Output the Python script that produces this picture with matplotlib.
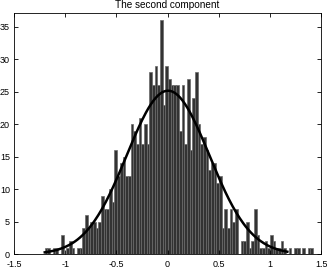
#Histogram of the second component with a normal fit on top (histfit style)

import numpy as np
import matplotlib
matplotlib.use('Agg')
import matplotlib.pyplot as plt

plt.rcParams['font.family'] = ['Liberation Sans', 'DejaVu Sans']
plt.rcParams['axes.unicode_minus'] = False

#bin range, 100 equal bins
binStart = -1.2
binStop = 1.42
counts = [1, 1, 0, 1, 1, 0, 3, 0, 1, 2,
          1, 0, 1, 1, 4, 6, 4, 5, 5, 4,
          5, 9, 7, 7, 10, 8, 16, 12, 14, 15,
          12, 12, 20, 19, 17, 21, 17, 20, 17, 28,
          26, 29, 26, 36, 23, 29, 27, 26, 26, 26,
          19, 26, 17, 27, 16, 24, 28, 20, 17, 18,
          16, 13, 14, 14, 11, 12, 4, 7, 4, 7,
          5, 7, 0, 2, 2, 5, 1, 2, 7, 3,
          1, 1, 2, 1, 3, 2, 1, 1, 2, 1,
          0, 1, 0, 1, 1, 0, 1, 0, 1, 1]
#range the fitted curve is drawn over
fitStart = -1.2
fitStop = 1.17

xTicks = [-1.5, -1, -0.5, 0, 0.5, 1, 1.5]
xTickLabels = ['-1.5', '-1', '-0.5', '0', '0.5', '1', '1.5']
yTicks = [0, 5, 10, 15, 20, 25, 30, 35]

edges = np.linspace(binStart, binStop, len(counts) + 1)
centers = 0.5 * (edges[:-1] + edges[1:])
binWidth = edges[1] - edges[0]
counts = np.array(counts, dtype=float)

#normal fit from the binned data, scaled to counts like histfit does
nTotal = counts.sum()
mu = (counts * centers).sum() / nTotal
sigma = np.sqrt((counts * (centers - mu) ** 2).sum() / (nTotal - 1))
xx = np.linspace(fitStart, fitStop, 200)
yy = nTotal * binWidth * np.exp(-0.5 * ((xx - mu) / sigma) ** 2) / (sigma * np.sqrt(2 * np.pi))

fig = plt.figure(figsize=(3.27, 2.69), dpi=100)
ax = fig.add_axes([0.043, 0.055, 0.939, 0.898])
ax.bar(centers, counts, width=binWidth, color='#333333', edgecolor='#6a6a6a', linewidth=0.5)
ax.plot(xx, yy, color='black', linewidth=1.8)

ax.set_xlim(-1.5, 1.5)
ax.set_ylim(0, 37.2)
ax.set_xticks(xTicks)
ax.set_xticklabels(xTickLabels)
ax.set_yticks(yTicks)
ax.tick_params(direction='in', length=3, width=0.6, labelsize=6.5, top=True, right=True)
ax.tick_params(axis='x', pad=4)
ax.tick_params(axis='y', pad=3)
for s in ax.spines.values():
    s.set_linewidth(0.6)
ax.set_title('The second component', fontsize=7.2, pad=3)

fig.savefig('out.png', dpi=100)
